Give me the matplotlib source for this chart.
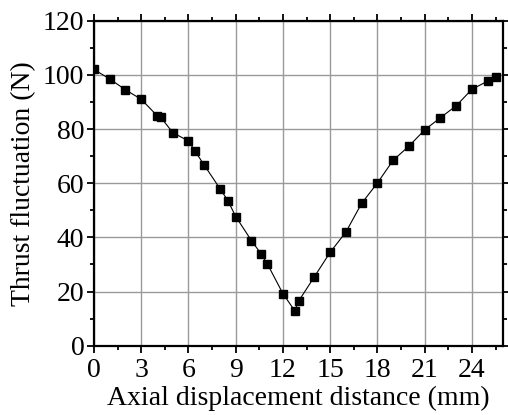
import matplotlib
matplotlib.use("Agg")
import matplotlib.pyplot as plt
from matplotlib.ticker import MultipleLocator

# axial displacement (mm) vs thrust fluctuation (N)
displacement = [0, 1, 2, 3, 4, 4.25, 5, 6, 6.4, 7, 8, 8.5, 9, 10, 10.6, 11, 12,
                12.75, 13, 14, 15, 16, 17, 18, 19, 20, 21, 22, 23, 24, 25, 25.5]
thrust = [102, 98.5, 94.5, 91, 85, 84.3, 78.7, 75.6, 72, 66.7, 58, 53.6, 47.7,
          38.8, 34, 30.3, 19.2, 12.9, 16.5, 25.5, 34.5, 42, 52.6, 60.1, 68.5,
          73.7, 79.7, 84.2, 88.6, 94.7, 97.7, 99.2]
x_ticks = [0, 3, 6, 9, 12, 15, 18, 21, 24]
y_ticks = [0, 20, 40, 60, 80, 100, 120]

plt.rcParams['font.family'] = ['Liberation Serif', 'DejaVu Serif']

fig = plt.figure(figsize=(5.08, 4.15), dpi=100)
ax = fig.add_axes([0.185, 0.167, 0.806, 0.783])

ax.plot(displacement, thrust, color='black', linewidth=0.8,
        marker='s', markersize=5.2, markerfacecolor='black', markeredgecolor='black')

ax.set_xlim(0, 26)
ax.set_ylim(0, 120)
ax.set_xticks(x_ticks)
ax.set_yticks(y_ticks)
ax.xaxis.set_minor_locator(MultipleLocator(1.5))
ax.yaxis.set_minor_locator(MultipleLocator(10))

ax.grid(True, which='major', color='#9a9a9a', linewidth=1.0)
ax.set_axisbelow(True)

for s in ax.spines.values():
    s.set_linewidth(1.6)

ax.tick_params(which='both', direction='out', top=True, right=True,
               labeltop=False, labelright=False, width=1.3, labelsize=20)
ax.tick_params(which='major', length=5)
ax.tick_params(which='minor', length=3)
ax.tick_params(axis='x', which='major', pad=4)
ax.tick_params(axis='y', which='major', pad=2)

ax.set_xlabel("Axial displacement distance (mm)", fontsize=20, labelpad=2)
ax.set_ylabel("Thrust fluctuation (N)", fontsize=20, labelpad=5)

fig.savefig("out.png", dpi=100)
